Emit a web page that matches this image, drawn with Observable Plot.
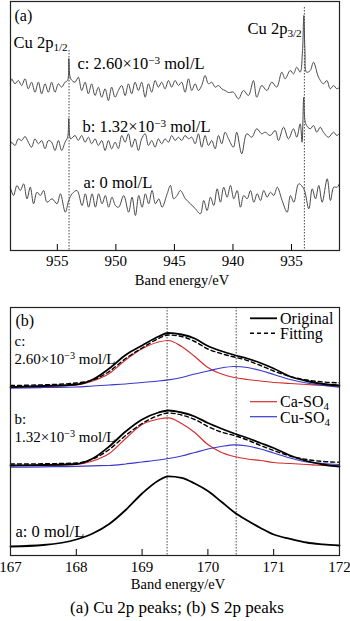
<!DOCTYPE html>
<html>
<head>
<meta charset="utf-8">
<script src="https://cdn.jsdelivr.net/npm/d3@7"></script>
<script src="https://cdn.jsdelivr.net/npm/@observablehq/plot@0.6"></script>
<style>
  html, body { margin: 0; padding: 0; background: #fff; }
  #chart svg { display: block; }
</style>
</head>
<body>
<div id="chart"></div>
<script>
// ---------- Panel (a): Cu 2p spectra (binding energy eV, intensity a.u.) ----------
const ticksA = [955, 950, 945, 940, 935];
const peaksA = [954.0, 933.9];
const traceA_c = [
[959.02,166.7],[958.91,171.7],[958.62,166.7],[958.33,170],[958.05,165],[957.76,171.7],[957.48,161.7],[957.20,168.3],[956.91,158.3],[956.62,168.3],[956.34,156.7],[956.05,166.7],[955.77,158.3],[955.49,168.3],[955.20,158.3],[954.91,166.7],[954.63,163.3],[954.34,168.3],[954.12,170],[954.02,192],[953.86,171.7],[953.49,168.3],[953.21,173.3],[952.92,160],[952.63,168.3],[952.35,156.7],[952.07,166.7],[951.78,155],[951.50,163.3],[951.21,153.3],[950.92,161.7],[950.64,150],[950.36,163.3],[950.07,153.3],[949.79,160],[949.50,165],[949.21,155],[948.93,166.7],[948.65,156.7],[948.36,168.3],[948.08,160],[947.80,168.3],[947.50,153.3],[947.22,166.7],[946.94,158.3],[946.65,170],[946.37,163.3],[946.09,168.3],[945.80,161.7],[945.51,170],[945.23,163.3],[944.94,170],[944.66,165],[944.38,168.3],[944.09,158.3],[943.80,171.7],[943.52,160],[943.23,166.7],[942.95,160],[942.67,165],[942.38,175],[942.09,166.7],[941.81,168.3],[941.52,163.3],[941.24,165],[940.96,161.7],[940.67,160],[940.39,158],[939.96,158.3],[939.53,151.7],[939.10,160],[938.68,155],[938.25,170],[937.97,153.3],[937.54,165],[937.11,160],[936.68,168.3],[936.26,163.3],[935.83,178.3],[935.54,171.7],[935.11,180],[934.83,176.7],[934.55,183.3],[934.26,178.3],[934.06,200],[933.95,235],[933.85,200],[933.72,178.3],[933.40,180],[933.12,188.3],[932.69,173.3],[932.27,166.7],[931.98,170],[931.69,161.7],[931.41,165],[931.13,161.7],[930.90,163]
];
const traceA_b = [
[959.02,105],[958.91,108.3],[958.62,105],[958.33,111.7],[958.05,110],[957.76,114],[957.48,108.3],[957.20,103.3],[956.91,111.7],[956.62,106.7],[956.34,110],[956.05,101.7],[955.77,110],[955.49,108.3],[955.20,100],[954.91,110],[954.63,100],[954.34,108.3],[954.12,113.3],[954.02,132],[953.86,111.7],[953.49,115],[953.21,110],[952.92,115],[952.63,108.3],[952.35,113.3],[952.07,106.7],[951.78,111.7],[951.50,105],[951.21,110],[950.92,100],[950.64,110],[950.36,101.7],[950.07,108.3],[949.79,102],[949.50,115],[949.21,108.3],[948.93,116.7],[948.65,103.3],[948.36,111.7],[948.08,100],[947.80,111.7],[947.50,116.7],[947.22,105],[946.94,110],[946.65,103.3],[946.37,111.7],[946.09,106.7],[945.80,111.7],[945.51,108.3],[945.23,115],[944.94,110],[944.66,113.3],[944.38,110],[944.09,115],[943.80,111.7],[943.52,113.3],[943.23,106.7],[942.95,116.7],[942.67,103.3],[942.38,115],[942.09,105],[941.81,110],[941.52,101.7],[941.24,115],[940.96,106.7],[940.67,118.3],[940.39,112],[939.96,103.3],[939.68,118.3],[939.25,96.7],[938.82,116.7],[938.39,113.3],[937.97,121.7],[937.54,116.7],[937.25,118.3],[936.82,115],[936.39,120],[936.11,110],[935.68,123.3],[935.26,111.7],[934.83,121.7],[934.55,113.3],[934.26,126.7],[934.10,108.3],[933.95,153.3],[933.78,126.7],[933.40,121.7],[933.12,125],[932.84,118.3],[932.55,123.3],[932.27,118.3],[931.84,113.3],[931.41,118.3],[931.13,115],[930.90,117]
];
const traceA_a = [
[959.02,63.3],[958.74,55],[958.45,65],[958.16,60],[957.88,66.7],[957.59,51.7],[957.31,63.3],[957.03,46.7],[956.74,58.3],[956.45,55],[956.17,60],[955.88,48.3],[955.45,51.7],[955.03,46.7],[954.74,56.7],[954.32,38.3],[954.03,50],[953.74,56.7],[953.32,60],[952.89,45],[952.61,56.7],[952.33,43.3],[952.03,56.7],[951.75,43.3],[951.47,56.7],[951.18,46.7],[950.90,55],[950.62,43.3],[950.33,53.3],[950.04,45],[949.76,43.3],[949.33,55],[948.91,38.3],[948.62,53.3],[948.33,35],[948.05,55],[947.76,43.3],[947.48,56.7],[947.20,46.7],[946.91,60],[946.62,46.7],[946.34,51.7],[946.05,43.3],[945.62,56.7],[945.34,65],[945.06,51.7],[944.77,55],[944.49,60],[944.06,51.7],[943.63,46.7],[943.21,41.7],[942.78,36.7],[942.50,50],[942.21,40],[941.92,53.3],[941.64,45],[941.35,61.7],[941.07,48.3],[940.79,63.3],[940.50,53.3],[940.21,65],[939.93,51.7],[939.64,60],[939.36,43.3],[939.08,55],[938.79,51.7],[938.50,60],[938.22,48.3],[937.93,56.7],[937.65,50],[937.37,60],[937.08,53.3],[936.80,58.3],[936.51,55],[936.22,63.3],[935.80,50],[935.37,38.3],[935.09,55],[934.80,48.3],[934.38,66.7],[933.95,61.7],[933.52,41.7],[933.23,61.7],[932.95,51.7],[932.67,65],[932.38,48.3],[931.95,71.7],[931.67,50],[931.39,63.3],[931.09,63.3],[930.90,67]
];
const labelsA = ["(a)", "Cu 2p_{1/2}", "Cu 2p_{3/2}", "c: 2.60×10^{−3} mol/L", "b: 1.32×10^{−3} mol/L", "a: 0 mol/L"];

// ---------- Panel (b): S 2p spectra ----------
const ticksB = [167, 168, 169, 170, 171, 172];
const peaksB = [169.38, 170.43];
const energyB = [167.0, 167.5, 168.0, 168.25, 168.5, 168.75, 169.0, 169.25, 169.4, 169.6, 169.8, 170.0, 170.2, 170.4, 170.6, 170.8, 171.0, 171.25, 171.5, 171.75, 172.0];
const origC = [168.3, 169.5, 171, 176, 187, 200.5, 210, 219, 222.5, 221, 217, 209.5, 204.5, 200.5, 197, 192.5, 187, 179, 174.5, 171.5, 170];
const fitC  = [170, 170.7, 172.5, 175.5, 184, 197, 207.5, 217, 220.5, 219, 214, 206.5, 202, 198.5, 195, 190, 184.5, 179, 175.5, 173.5, 172.7];
const caC   = [168.3, 169, 170.5, 174.5, 182, 195.5, 206.7, 213.5, 215, 209, 199, 188, 181.7, 178, 176, 174.5, 173, 172, 171, 170, 169.3];
const cuC   = [167.3, 168, 168.5, 169.5, 170.5, 171.5, 173, 174.5, 175.7, 178, 181.5, 184.5, 187.5, 189, 188, 185, 181, 176, 172.5, 170, 168.3];
const origBB = [90, 90.5, 91.5, 97, 109, 124, 136, 143, 145, 143, 139, 132.5, 127, 122, 117.5, 112.5, 107.5, 100, 94.5, 91, 89];
const fitBB  = [91.5, 91.7, 92.5, 96.5, 106, 120, 132, 140, 142.5, 140.5, 136, 129, 123.5, 120, 115.5, 110, 105, 99.5, 96, 94, 93.3];
const caBB   = [90, 90, 91, 94.5, 102, 117, 131, 136.5, 137.7, 132, 123, 111, 103.3, 99, 96.5, 95, 93, 92, 91, 90, 89.3];
const cuBB   = [88.3, 88.7, 89.2, 89.7, 90, 91.5, 93.5, 95.5, 97, 99.5, 103, 106.5, 109, 110.7, 109.5, 106.5, 102.5, 97.5, 93.5, 92, 91];
const origA0 = [9, 10.5, 16, 22, 31.5, 45.5, 62, 75, 79.2, 77.7, 72, 64.5, 54, 43.3, 35, 27.5, 21, 16.7, 13, 11.2, 10];
const labelsB = ["(b)", "c:", "2.60×10^{−3} mol/L", "b:", "1.32×10^{−3} mol/L", "a: 0 mol/L"];
const legendB = ["Original", "Fitting", "Ca-SO_{4}", "Cu-SO_{4}"];
const axisTitle = "Band energy/eV";
const caption = "(a) Cu 2p peaks; (b) S 2p peaks";

const FONT = "Liberation Serif, Times New Roman, serif";
const RED = "#d42f2f", BLUE = "#3a3acb", GRAY = "#4a4a4a";
const FS_LABEL = 16.5, FS_TICK = 15, FS_TITLE = 14.5, FS_CAP = 17, FS_STACK = 15;

function rows(xs, ys) { return xs.map((x, i) => ({x, y: ys[i]})); }

// ---- Panel (a)
const hA = 292, mtA = 1, mbA = hA - 250;
const frameHA = hA - mtA - mbA;
const lblA = (t, dx, dy, fs = FS_LABEL) => Plot.text([t], {text: d => d, frameAnchor: "top-left", textAnchor: "start", lineAnchor: "bottom", dx, dy, fontSize: fs, fill: "black"});
const chartA = Plot.plot({
  width: 350, height: hA,
  marginTop: mtA, marginBottom: mbA, marginLeft: 10, marginRight: 11,
  style: {fontFamily: FONT, fontSize: FS_TICK + "px", color: "black", background: "white"},
  x: {domain: [959.0, 930.9], label: null},
  y: {domain: [0, 249], axis: null},
  marks: [
    Plot.ruleX([peaksA[0]], {x: d => d, insetTop: 49, stroke: "#333", strokeWidth: 0.9, strokeDasharray: "1.5,1.5"}),
    Plot.ruleX([peaksA[1]], {x: d => d, insetTop: 6, stroke: "#333", strokeWidth: 0.9, strokeDasharray: "1.5,1.5"}),
    Plot.line(traceA_c, {x: d => d[0], y: d => d[1], stroke: GRAY, strokeWidth: 1, curve: "catmull-rom"}),
    Plot.line(traceA_b, {x: d => d[0], y: d => d[1], stroke: GRAY, strokeWidth: 1, curve: "catmull-rom"}),
    Plot.line(traceA_a, {x: d => d[0], y: d => d[1], stroke: GRAY, strokeWidth: 1, curve: "catmull-rom"}),
    Plot.ruleX(ticksA, {x: d => d, insetTop: frameHA - 6, stroke: "black", strokeWidth: 1}),
    Plot.frame({stroke: "#222", strokeWidth: 1.2}),
    Plot.axisX({ticks: ticksA, tickSize: 0, tickPadding: 5, label: null, tickFormat: d => String(d)}),
    Plot.text([axisTitle], {text: d => d, frameAnchor: "bottom", lineAnchor: "bottom", dx: 7, dy: 34, fontSize: FS_TITLE, fill: "black"}),
    lblA(labelsA[0], 4, 19, 16),
    lblA(labelsA[1], 3, 46),
    lblA(labelsA[2], 237, 32),
    lblA(labelsA[3], 67, 67),
    lblA(labelsA[4], 72, 130),
    lblA(labelsA[5], 73, 186)
  ]
});

// ---- Panel (b)
const hB = 621 - hA, mtB = 307 - hA, mbB = 621 - 555;
const frameHB = hB - mtB - mbB;
const curveB = "monotone-x";
const lblB = (t, dx, dy, fs = FS_LABEL) => Plot.text([t], {text: d => d, frameAnchor: "top-left", textAnchor: "start", lineAnchor: "bottom", dx, dy, fontSize: fs, fill: "black"});
const chartB = Plot.plot({
  width: 350, height: hB,
  marginTop: mtB, marginBottom: mbB, marginLeft: 10, marginRight: 11,
  style: {fontFamily: FONT, fontSize: FS_TICK + "px", color: "black", background: "white"},
  x: {domain: [167, 172], label: null},
  y: {domain: [0, 248], axis: null},
  marks: [
    Plot.ruleX(peaksB, {x: d => d, stroke: "#333", strokeWidth: 0.9, strokeDasharray: "1.5,1.5"}),
    Plot.line(rows(energyB, caC), {x: "x", y: "y", stroke: RED, strokeWidth: 1.2, curve: curveB}),
    Plot.line(rows(energyB, cuC), {x: "x", y: "y", stroke: BLUE, strokeWidth: 1.2, curve: curveB}),
    Plot.line(rows(energyB, origC), {x: "x", y: "y", stroke: "black", strokeWidth: 1.8, curve: curveB}),
    Plot.line(rows(energyB, fitC), {x: "x", y: "y", stroke: "black", strokeWidth: 1.4, strokeDasharray: "4,3", curve: curveB}),
    Plot.line(rows(energyB, caBB), {x: "x", y: "y", stroke: RED, strokeWidth: 1.2, curve: curveB}),
    Plot.line(rows(energyB, cuBB), {x: "x", y: "y", stroke: BLUE, strokeWidth: 1.2, curve: curveB}),
    Plot.line(rows(energyB, origBB), {x: "x", y: "y", stroke: "black", strokeWidth: 1.8, curve: curveB}),
    Plot.line(rows(energyB, fitBB), {x: "x", y: "y", stroke: "black", strokeWidth: 1.4, strokeDasharray: "4,3", curve: curveB}),
    Plot.line(rows(energyB, origA0), {x: "x", y: "y", stroke: "black", strokeWidth: 1.8, curve: curveB}),
    Plot.ruleX(ticksB, {x: d => d, insetTop: frameHB - 6, stroke: "black", strokeWidth: 1}),
    Plot.frame({stroke: "#222", strokeWidth: 1.2}),
    Plot.axisX({ticks: ticksB, tickSize: 0, tickPadding: 6, label: null, tickFormat: d => String(d)}),
    Plot.text([axisTitle], {text: d => d, frameAnchor: "bottom", lineAnchor: "bottom", dx: 3, dy: 33, fontSize: FS_TITLE, fill: "black"}),
    Plot.text([caption], {text: d => d, frameAnchor: "bottom", lineAnchor: "bottom", dx: 2, dy: 57, fontSize: FS_CAP, fill: "black"}),
    lblB(labelsB[0], 5, 18, 16),
    lblB(labelsB[1], 4, 38.5, FS_STACK),
    lblB(labelsB[2], 4, 56, FS_STACK),
    lblB(labelsB[3], 4, 116.5, FS_STACK),
    lblB(labelsB[4], 4, 134, FS_STACK),
    lblB(labelsB[5], 5, 229)
  ]
});

// legend for panel (b)
(function addLegend(svg) {
  const g = d3.select(svg).append("g")
    .attr("font-family", FONT).attr("font-size", 16).attr("text-anchor", "start");
  const items = [
    {t: legendB[0], stroke: "black", w: 1.8, dash: null, ly: 26.3, ty: 31.5},
    {t: legendB[1], stroke: "black", w: 1.4, dash: "4,3", ly: 41.3, ty: 47.3},
    {t: legendB[2], stroke: RED, w: 1.2, dash: null, ly: 109.7, ty: 115.3},
    {t: legendB[3], stroke: BLUE, w: 1.2, dash: null, ly: 124.7, ty: 130.7}
  ];
  for (const it of items) {
    g.append("line").attr("x1", 250).attr("x2", 277).attr("y1", it.ly).attr("y2", it.ly)
      .attr("stroke", it.stroke).attr("stroke-width", it.w).attr("stroke-dasharray", it.dash);
    g.append("text").attr("x", 280).attr("y", it.ty).attr("fill", "black")
      .attr("text-anchor", "start").text(it.t);
  }
})(chartB);

// rich text: ^{...} superscript, _{...} subscript
function richText(svg) {
  d3.select(svg).selectAll("text").each(function() {
    const t = this.textContent;
    if (!/[\^_]\{/.test(t)) return;
    const parts = t.split(/([\^_]\{[^}]*\})/);
    const sel = d3.select(this);
    sel.text(null);
    let back = 0;
    for (const p of parts) {
      if (!p) continue;
      const m = p.match(/^([\^_])\{(.*)\}$/);
      if (m) {
        const d = m[1] === "^" ? -5 : 3;
        sel.append("tspan").attr("dy", d + back).attr("font-size", "0.68em").text(m[2]);
        back = -d;
      } else {
        const ts = sel.append("tspan").text(p);
        if (back) ts.attr("dy", back);
        back = 0;
      }
    }
  });
}
richText(chartA);
richText(chartB);

document.getElementById("chart").append(chartA, chartB);
</script>
</body>
</html>
